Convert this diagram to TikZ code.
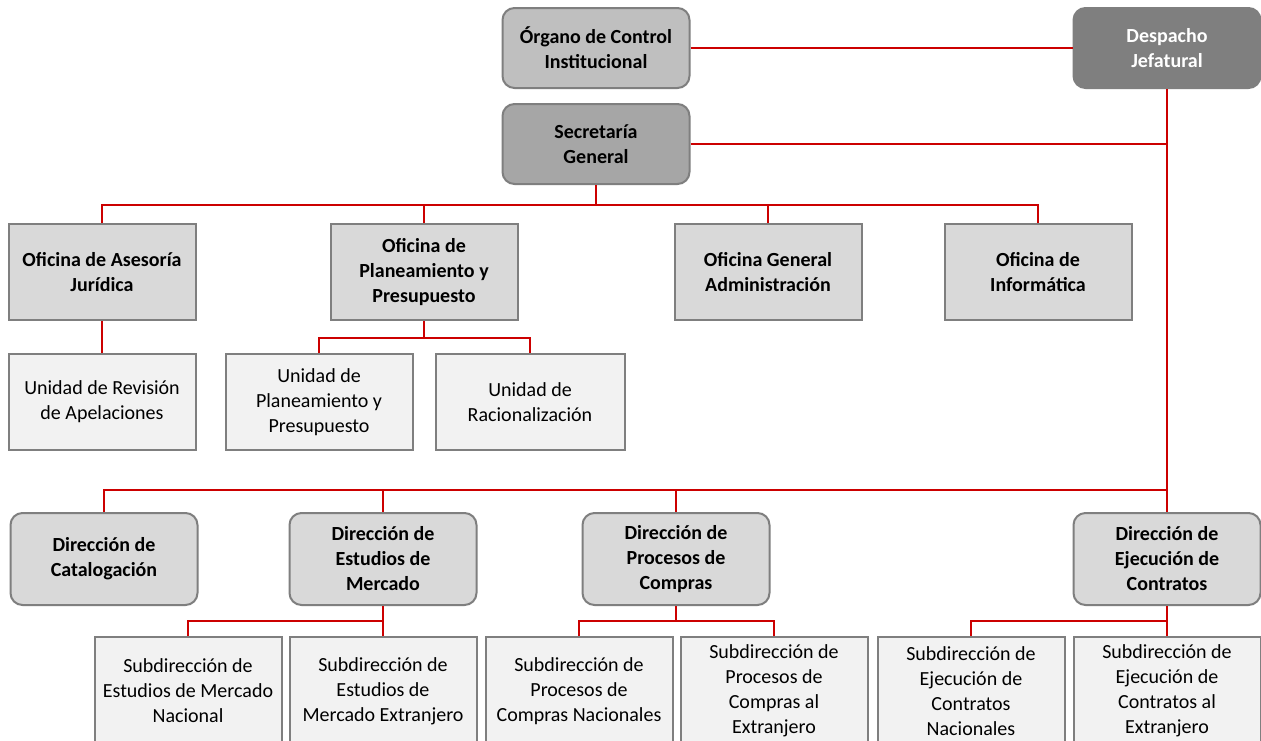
\documentclass[tikz,border=0pt]{standalone}
\usepackage{fontspec}
\setmainfont{Carlito}
\definecolor{linkred}{HTML}{CC0000}
\definecolor{edgegray}{HTML}{7F7F7F}
\definecolor{topgray}{HTML}{BFBFBF}
\definecolor{secgray}{HTML}{A6A6A6}
\definecolor{headgray}{HTML}{7F7F7F}
\definecolor{midgray}{HTML}{D9D9D9}
\definecolor{lowgray}{HTML}{F2F2F2}
\tikzset{
  unitbox/.style={draw=edgegray, line width=2pt, align=center, inner sep=0pt,
    minimum width=187pt, font=\fontsize{20}{25}\selectfont},
  headbox/.style={unitbox, rounded corners=12pt, minimum height=80pt, font=\fontsize{20}{25}\selectfont\bfseries},
  officebox/.style={unitbox, fill=midgray, minimum height=96pt, font=\fontsize{20}{25}\selectfont\bfseries},
  subunitbox/.style={unitbox, fill=lowgray, minimum height=96pt},
  directionbox/.style={unitbox, rounded corners=12pt, fill=midgray, minimum height=92pt, font=\fontsize{20}{25}\selectfont\bfseries},
  subdirbox/.style={unitbox, fill=lowgray, minimum height=108pt},
  link/.style={draw=linkred, line width=2pt}
}
\begin{document}
\begin{tikzpicture}[x=1pt, y=-1pt]
    \clip (0,0) rectangle (1261,740);
    \fill[white] (0,0) rectangle (1261,740);
    % alta direccion
    \node[headbox, fill=topgray] (oci) at (596,48) {Órgano de Control\\Institucional};
    \node[headbox, fill=headgray, text=white] (despacho) at (1167,48) {Despacho\\Jefatural};
    \node[headbox, fill=secgray] (sg) at (596,144) {Secretaría\\General};
    % oficinas
    \node[officebox] (oaj) at (102,272) {Oficina de Asesoría\\Jurídica};
    \node[officebox] (opp) at (424,272) {Oficina de\\Planeamiento y\\Presupuesto};
    \node[officebox] (oga) at (768,272) {Oficina General\\Administración};
    \node[officebox] (oinf) at (1038,272) {Oficina de\\Informática};
    \node[subunitbox] (ura) at (102,402) {Unidad de Revisión\\de Apelaciones};
    \node[subunitbox] (upp) at (319,402) {Unidad de\\Planeamiento y\\Presupuesto};
    \node[subunitbox, minimum width=189pt] (urac) at (530,402) {Unidad de\\Racionalización};
    % direcciones
    \node[directionbox] (dcat) at (104,559) {Dirección de\\Catalogación};
    \node[directionbox] (dem) at (383,559) {Dirección de\\Estudios de\\Mercado};
    \node[directionbox] (dpc) at (676,559) {Dirección de\\Procesos de\\Compras};
    \node[directionbox] (dec) at (1167,559) {Dirección de\\Ejecución de\\Contratos};
    \node[subdirbox] (semn) at (188,691) {Subdirección de\\Estudios de Mercado\\Nacional};
    \node[subdirbox] (seme) at (383,691) {Subdirección de\\Estudios de\\Mercado Extranjero};
    \node[subdirbox] (spcn) at (579,691) {Subdirección de\\Procesos de\\Compras Nacionales};
    \node[subdirbox] (spce) at (774,691) {Subdirección de\\Procesos de\\Compras al\\Extranjero};
    \node[subdirbox] (secn) at (971,691) {Subdirección de\\Ejecución de\\Contratos\\Nacionales};
    \node[subdirbox] (sece) at (1167,691) {Subdirección de\\Ejecución de\\Contratos al\\Extranjero};
    % buses
    \coordinate (busO) at (596,205);
    \coordinate (busP) at (424,338);
    \coordinate (busD) at (1167,490);
    \coordinate (busM) at (383,621);
    \coordinate (busC) at (676,621);
    \coordinate (busE) at (1167,621);
    \coordinate (joinSG) at (despacho.south |- sg.east);
    % conectores
    \draw[link] (oci.east) -- (despacho.west);
    \draw[link] (despacho.south) -- (dec.north);
    \draw[link] (sg.east) -- (joinSG);
    \draw[link] (sg.south) -- (busO);
    \draw[link] (oaj.north) |- (busO);
    \draw[link] (opp.north) |- (busO);
    \draw[link] (oga.north) |- (busO);
    \draw[link] (oinf.north) |- (busO);
    \draw[link] (oaj.south) -- (ura.north);
    \draw[link] (opp.south) -- (busP);
    \draw[link] (upp.north) |- (busP);
    \draw[link] (urac.north) |- (busP);
    \draw[link] (dcat.north) |- (busD);
    \draw[link] (dem.north) |- (busD);
    \draw[link] (dpc.north) |- (busD);
    \draw[link] (dem.south) -- (busM);
    \draw[link] (semn.north) |- (busM);
    \draw[link] (seme.north) |- (busM);
    \draw[link] (dpc.south) -- (busC);
    \draw[link] (spcn.north) |- (busC);
    \draw[link] (spce.north) |- (busC);
    \draw[link] (dec.south) -- (busE);
    \draw[link] (secn.north) |- (busE);
    \draw[link] (sece.north) |- (busE);
\end{tikzpicture}
\end{document}
